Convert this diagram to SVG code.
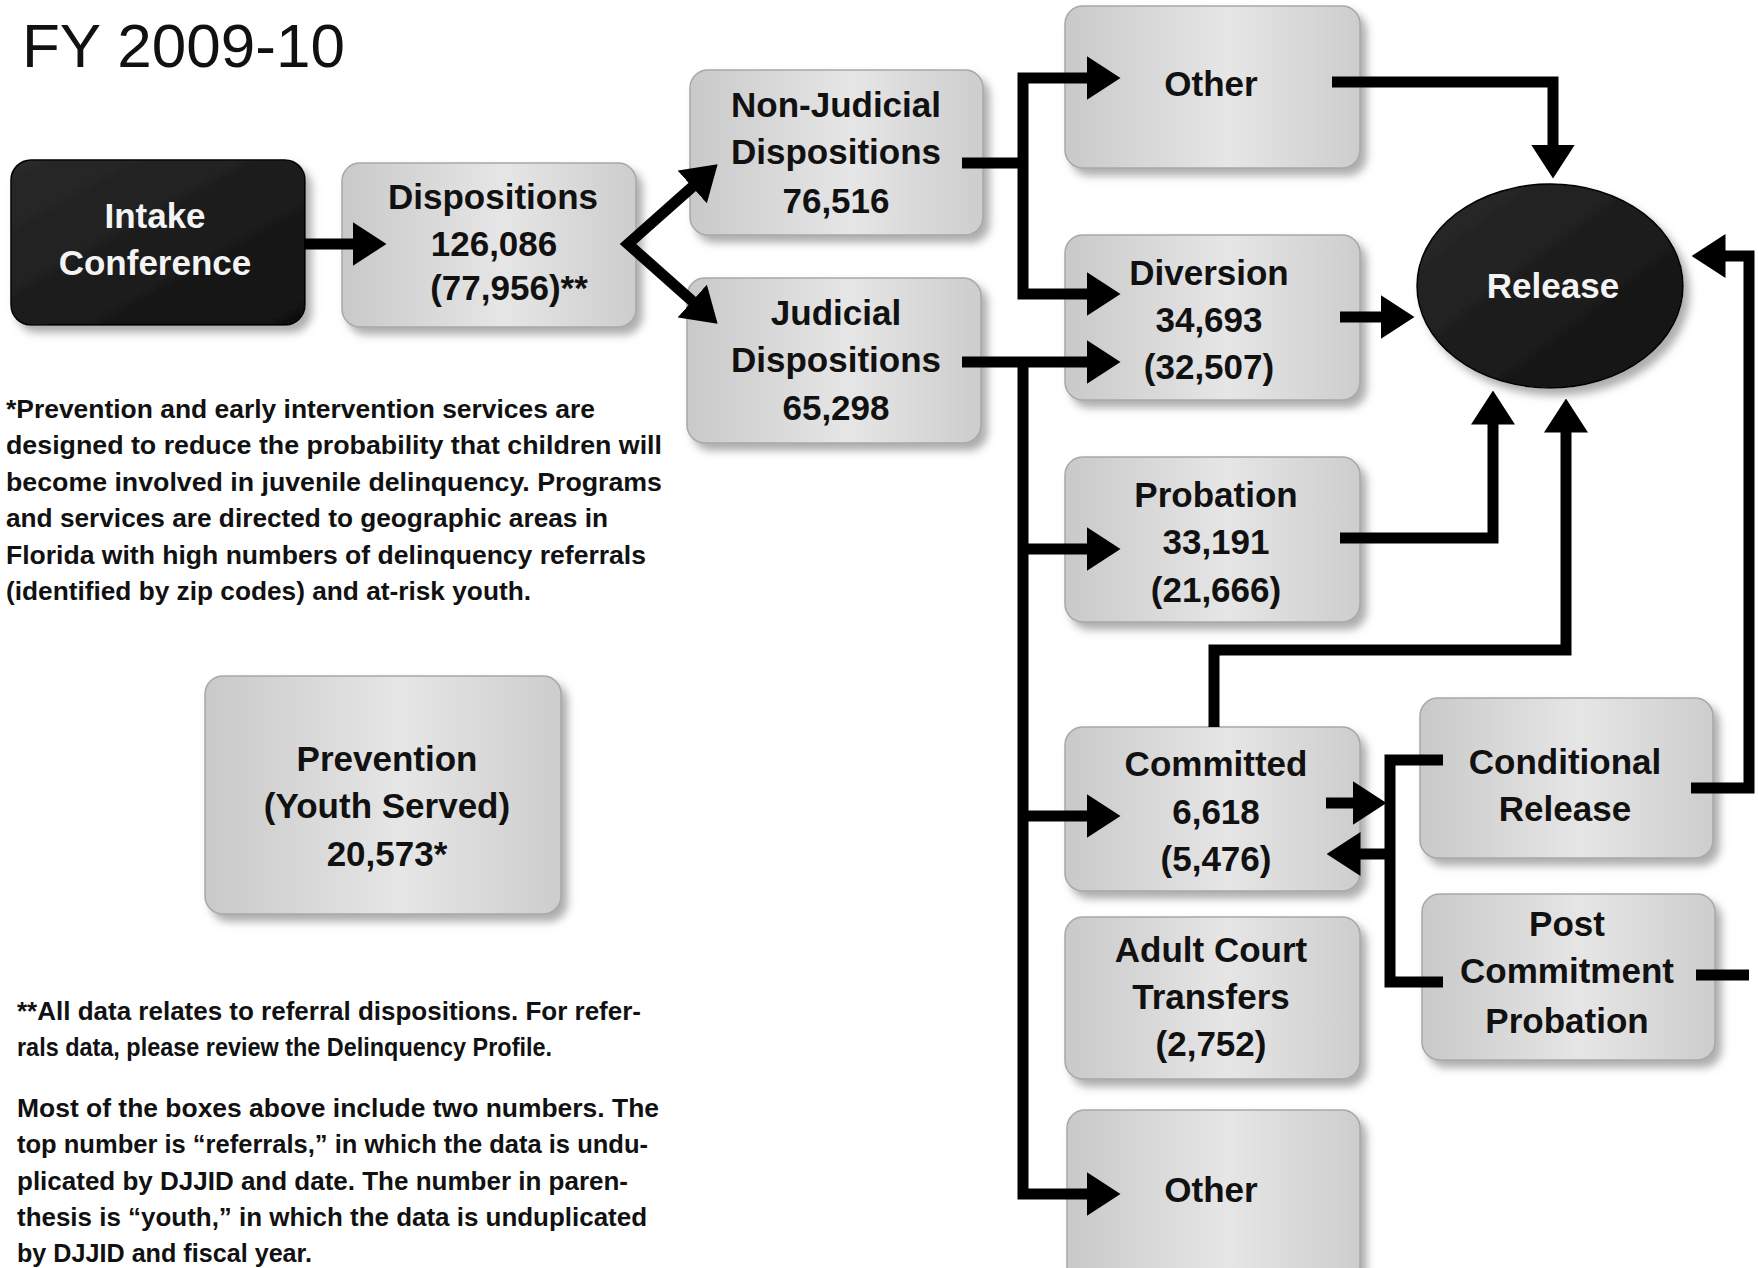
<svg xmlns="http://www.w3.org/2000/svg" width="1758" height="1268" viewBox="0 0 1758 1268">
<style>
  .box { fill: url(#gbox); stroke: #a8a8a8; stroke-width: 1.5; filter: url(#sh); }
  .dark { fill: url(#gdark); stroke: #000; stroke-width: 1.5; filter: url(#sh); }
  .lbl { font-family: "Liberation Sans", Arial, sans-serif; font-weight: bold; font-size: 35px; fill: #111; text-anchor: middle; }
  .wlbl { font-family: "Liberation Sans", Arial, sans-serif; font-weight: bold; font-size: 35px; fill: #f4f4f4; text-anchor: middle; }
  .para { font-family: "Liberation Sans", Arial, sans-serif; font-weight: bold; font-size: 25px; fill: #111; }
  .title { font-family: "Liberation Sans", Arial, sans-serif; font-size: 62px; fill: #111; }
  .con { fill: none; stroke: #000; stroke-width: 11; stroke-linejoin: miter; stroke-linecap: butt; }
</style>
<defs>
  <linearGradient id="gbox" x1="0" y1="0" x2="1" y2="0">
    <stop offset="0" stop-color="#c9c9c9"/>
    <stop offset="0.55" stop-color="#e6e6e6"/>
    <stop offset="1" stop-color="#cdcdcd"/>
  </linearGradient>
  <linearGradient id="gdark" x1="0" y1="0" x2="1" y2="1">
    <stop offset="0" stop-color="#2a2a2a"/>
    <stop offset="1" stop-color="#101010"/>
  </linearGradient>
  <filter id="sh" x="-10%" y="-10%" width="125%" height="130%">
    <feDropShadow dx="6" dy="7" stdDeviation="4" flood-color="#777" flood-opacity="0.6"/>
  </filter>
  <marker id="ah" markerUnits="userSpaceOnUse" viewBox="0 0 34 44" markerWidth="34" markerHeight="44" refX="0.5" refY="22" orient="auto-start-reverse">
    <path d="M0,0 L34,22 L0,44 z" fill="#000"/>
  </marker>
</defs>
<rect width="1758" height="1268" fill="#fff"/>

<text class="title" x="22" y="67">FY 2009-10</text>

<g id="intake">
  <rect class="dark" x="11" y="160" width="294" height="165" rx="20"/>
  <text class="wlbl" x="155" y="228">Intake</text>
  <text class="wlbl" x="155" y="275">Conference</text>
</g>
<g id="dispositions">
  <rect class="box" x="342" y="163" width="294" height="164" rx="18"/>
  <text class="lbl" x="493" y="209">Dispositions</text>
  <text class="lbl" x="494" y="256">126,086</text>
  <text class="lbl" x="509" y="300">(77,956)**</text>
</g>
<g id="nonjudicial">
  <rect class="box" x="690" y="70" width="293" height="165" rx="18"/>
  <text class="lbl" x="836" y="117">Non-Judicial</text>
  <text class="lbl" x="836" y="164">Dispositions</text>
  <text class="lbl" x="836" y="213">76,516</text>
</g>
<g id="judicial">
  <rect class="box" x="687" y="278" width="294" height="165" rx="18"/>
  <text class="lbl" x="836" y="325">Judicial</text>
  <text class="lbl" x="836" y="372">Dispositions</text>
  <text class="lbl" x="836" y="420">65,298</text>
</g>
<g id="other-top">
  <rect class="box" x="1065" y="6" width="295" height="162" rx="18"/>
  <text class="lbl" x="1211" y="96">Other</text>
</g>
<g id="diversion">
  <rect class="box" x="1065" y="235" width="295" height="165" rx="18"/>
  <text class="lbl" x="1209" y="285">Diversion</text>
  <text class="lbl" x="1209" y="332">34,693</text>
  <text class="lbl" x="1209" y="379">(32,507)</text>
</g>
<g id="release">
  <ellipse class="dark" cx="1550" cy="286" rx="133" ry="102"/>
  <text class="wlbl" x="1553" y="298" font-size="33">Release</text>
</g>
<g id="probation">
  <rect class="box" x="1065" y="457" width="295" height="165" rx="18"/>
  <text class="lbl" x="1216" y="507">Probation</text>
  <text class="lbl" x="1216" y="554">33,191</text>
  <text class="lbl" x="1216" y="602">(21,666)</text>
</g>
<g id="committed">
  <rect class="box" x="1065" y="727" width="295" height="164" rx="18"/>
  <text class="lbl" x="1216" y="776">Committed</text>
  <text class="lbl" x="1216" y="824">6,618</text>
  <text class="lbl" x="1216" y="871">(5,476)</text>
</g>
<g id="conditional-release">
  <rect class="box" x="1420" y="698" width="293" height="160" rx="18"/>
  <text class="lbl" x="1565" y="774">Conditional</text>
  <text class="lbl" x="1565" y="821">Release</text>
</g>
<g id="post-commitment">
  <rect class="box" x="1422" y="894" width="293" height="166" rx="18"/>
  <text class="lbl" x="1567" y="936">Post</text>
  <text class="lbl" x="1567" y="983">Commitment</text>
  <text class="lbl" x="1567" y="1033">Probation</text>
</g>
<g id="adult-court">
  <rect class="box" x="1065" y="917" width="295" height="162" rx="18"/>
  <text class="lbl" x="1211" y="962">Adult Court</text>
  <text class="lbl" x="1211" y="1009">Transfers</text>
  <text class="lbl" x="1211" y="1056">(2,752)</text>
</g>
<g id="other-bottom">
  <rect class="box" x="1067" y="1110" width="293" height="175" rx="18"/>
  <text class="lbl" x="1211" y="1202">Other</text>
</g>
<g id="prevention">
  <rect class="box" x="205" y="676" width="356" height="238" rx="18"/>
  <text class="lbl" x="387" y="771">Prevention</text>
  <text class="lbl" x="387" y="818">(Youth Served)</text>
  <text class="lbl" x="387" y="866">20,573*</text>
</g>

<g id="connectors">
  <path class="con" d="M305,244 H353" marker-end="url(#ah)"/>
  <path class="con" d="M692.6,186.6 L628,244 L692.6,301.4" marker-start="url(#ah)" marker-end="url(#ah)"/>
  <path class="con" d="M962,163 H1023"/>
  <path class="con" d="M1087,78 H1023 V294 H1087" marker-start="url(#ah)" marker-end="url(#ah)"/>
  <path class="con" d="M962,362 H1087" marker-end="url(#ah)"/>
  <path class="con" d="M1023,362 V1194 H1087" marker-end="url(#ah)"/>
  <path class="con" d="M1023,549 H1087" marker-end="url(#ah)"/>
  <path class="con" d="M1023,816 H1087" marker-end="url(#ah)"/>
  <path class="con" d="M1332,82 H1553 V145" marker-end="url(#ah)"/>
  <path class="con" d="M1340,317 H1381" marker-end="url(#ah)"/>
  <path class="con" d="M1340,538 H1493 V424" marker-end="url(#ah)"/>
  <path class="con" d="M1214,727 V650 H1566 V432" marker-end="url(#ah)"/>
  <path class="con" d="M1326,803 H1353" marker-end="url(#ah)"/>
  <path class="con" d="M1443,760 H1390 V982 H1443"/>
  <path class="con" d="M1390,854 H1360" marker-end="url(#ah)"/>
  <path class="con" d="M1691,788 H1749 V256 H1725" marker-end="url(#ah)"/>
  <path class="con" d="M1696,975 H1749"/>
</g>

<g id="notes">
  <text class="para" x="6" y="418" textLength="589" lengthAdjust="spacingAndGlyphs">*Prevention and early intervention services are</text>
  <text class="para" x="6" y="454" textLength="656" lengthAdjust="spacingAndGlyphs">designed to reduce the probability that children will</text>
  <text class="para" x="6" y="491" textLength="656" lengthAdjust="spacingAndGlyphs">become involved in juvenile delinquency.  Programs</text>
  <text class="para" x="6" y="527" textLength="602" lengthAdjust="spacingAndGlyphs">and services are directed to geographic areas in</text>
  <text class="para" x="6" y="564" textLength="640" lengthAdjust="spacingAndGlyphs">Florida with high numbers of delinquency referrals</text>
  <text class="para" x="6" y="600" textLength="525" lengthAdjust="spacingAndGlyphs">(identified by zip codes) and at-risk youth.</text>
  <text class="para" x="17" y="1020" textLength="624" lengthAdjust="spacingAndGlyphs">**All data relates to referral dispositions. For refer-</text>
  <text class="para" x="17" y="1056" textLength="535" lengthAdjust="spacingAndGlyphs">rals data, please review the Delinquency Profile.</text>
  <text class="para" x="17" y="1117" textLength="642" lengthAdjust="spacingAndGlyphs">Most of the boxes above include two numbers. The</text>
  <text class="para" x="17" y="1153" textLength="631" lengthAdjust="spacingAndGlyphs">top number is “referrals,” in which the data is undu-</text>
  <text class="para" x="17" y="1190" textLength="611" lengthAdjust="spacingAndGlyphs">plicated by DJJID and date. The number in paren-</text>
  <text class="para" x="17" y="1226" textLength="630" lengthAdjust="spacingAndGlyphs">thesis is “youth,”  in which the data is unduplicated</text>
  <text class="para" x="17" y="1262" textLength="295" lengthAdjust="spacingAndGlyphs">by DJJID and fiscal year.</text>
</g>
</svg>
